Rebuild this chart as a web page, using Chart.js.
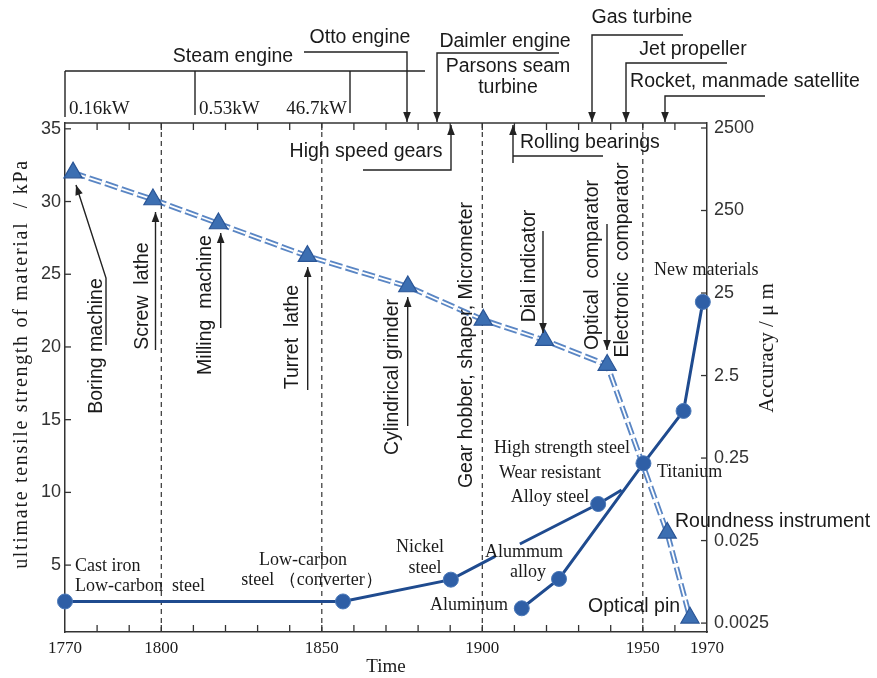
<!DOCTYPE html>
<html>
<head>
<meta charset="utf-8">
<script src="https://cdn.jsdelivr.net/npm/chart.js@4.4.1/dist/chart.umd.min.js"></script>
<style>
html,body{margin:0;padding:0;background:#fff;}
#wrap{width:877px;height:678px;position:relative;}
</style>
</head>
<body>
<div id="wrap"><canvas id="c" width="877" height="678"></canvas></div>
<script>
// ---------------- data ----------------
const xLabelYears = [1770, 1800, 1850, 1900, 1950, 1970];
const dashedYears = [1800, 1850, 1900, 1950];
const leftTicks = [5, 10, 15, 20, 25, 30, 35];
const rightTicks = [0.0025, 0.025, 0.25, 2.5, 25, 250, 2500];
const rightTickLabels = ['0.0025', '0.025', '0.25', '2.5', '25', '250', '2500'];

// machine tools / measuring instruments: accuracy (μm, right log axis)
const toolNames = ['Boring machine', 'Screw lathe', 'Milling machine', 'Turret lathe', 'Cylindrical grinder',
  'Gear hobber, shaper, Micrometer', 'Dial indicator', 'Optical comparator', 'Roundness instrument', 'Optical pin'];
const toolYears = [1772.5, 1797.4, 1817.8, 1845.5, 1876.8, 1900.3, 1919.4, 1938.9, 1957.6, 1964.7];
const toolAccuracy = [720, 340, 174, 70, 30, 11.8, 6.7, 3.35, 0.031, 0.0029];

// steels: tensile strength (left axis); null = break in the line
const steelYears = [1770, 1856.6, 1890.2, 1904.0, 1908, 1911.7, 1936.1, 1943.4];
const steelStrength = [2.5, 2.5, 4.0, 5.6, null, 6.45, 9.2, 10.17];
const steelMeasured = [true, true, true, false, false, false, true, false];

// light alloys / new materials: tensile strength (left axis)
const alloyYears = [1912.3, 1923.9, 1950.2, 1962.7, 1968.7];
const alloyStrength = [2.03, 4.05, 12.0, 15.6, 23.1];

// ---------------- style ----------------
const SANS = '"Liberation Sans", Arial, sans-serif';
const SERIF = '"Liberation Serif", "Times New Roman", serif';
const INK = '#1a1a1a';
const NAVY = '#1f4b8f';
const TRI_FILL = '#3c6fb2';
const DASH_BLUE = '#5a86c4';

function seg(ctx, pts) {
  ctx.beginPath();
  ctx.moveTo(pts[0][0], pts[0][1]);
  for (let i = 1; i < pts.length; i++) ctx.lineTo(pts[i][0], pts[i][1]);
  ctx.stroke();
}
function arrow(ctx, pts) {
  seg(ctx, pts);
  const [x1, y1] = pts[pts.length - 2], [x2, y2] = pts[pts.length - 1];
  const a = Math.atan2(y2 - y1, x2 - x1), L = 10, W = 3.8;
  ctx.beginPath();
  ctx.moveTo(x2, y2);
  ctx.lineTo(x2 - L * Math.cos(a) + W * Math.sin(a), y2 - L * Math.sin(a) - W * Math.cos(a));
  ctx.lineTo(x2 - L * Math.cos(a) - W * Math.sin(a), y2 - L * Math.sin(a) + W * Math.cos(a));
  ctx.closePath();
  ctx.fill();
}
function txt(ctx, s, x, y, font, align, color) {
  ctx.font = font;
  ctx.fillStyle = color || INK;
  ctx.textAlign = align || 'left';
  ctx.textBaseline = 'middle';
  ctx.fillText(s, x, y);
}
function vtxt(ctx, s, cx, cy, font, color) {
  ctx.save();
  ctx.translate(cx, cy);
  ctx.rotate(-Math.PI / 2);
  txt(ctx, s, 0, 0, font, 'center', color);
  ctx.restore();
}

const F_SANS = '19.5px ' + SANS;
const F_SERIF = '18px ' + SERIF;

const deco = {
  id: 'deco',
  beforeDatasetsDraw(chart) {
    const {ctx, chartArea: a, scales: {x, y, y2}} = chart;
    ctx.save();
    ctx.strokeStyle = '#333';
    ctx.lineWidth = 1.5;
    seg(ctx, [[a.left, a.top], [a.right, a.top]]);
    // dashed verticals
    ctx.lineWidth = 1.2;
    ctx.setLineDash([5, 4]);
    dashedYears.forEach(v => { const p = x.getPixelForValue(v); seg(ctx, [[p, a.top], [p, a.bottom]]); });
    ctx.setLineDash([]);
    // inward tick marks
    ctx.lineWidth = 1.3;
    x.ticks.forEach(t => {
      const p = x.getPixelForValue(t.value);
      if (p <= a.left + 1 || p >= a.right - 1) return;
      seg(ctx, [[p, a.bottom], [p, a.bottom - 7]]);
      seg(ctx, [[p, a.top], [p, a.top + 7]]);
    });
    y.ticks.forEach(t => { const p = y.getPixelForValue(t.value); seg(ctx, [[a.left, p], [a.left + 6, p]]); });
    y2.ticks.forEach(t => { const p = y2.getPixelForValue(t.value); seg(ctx, [[a.right, p], [a.right - 6, p]]); });
    ctx.restore();
  },
  afterDraw(chart) {
    const {ctx} = chart;
    ctx.save();
    ctx.strokeStyle = '#222';
    ctx.fillStyle = '#222';
    ctx.lineWidth = 1.4;

    // ---- axis titles ----
    ctx.save();
    ctx.letterSpacing = '1.7px';
    vtxt(ctx, 'ultimate tensile strength of material  / kPa', 22, 364, '20px ' + SERIF);
    ctx.restore();
    vtxt(ctx, 'Accuracy / \u03bc m', 767, 348, '21px ' + SERIF);

    // ---- top: power machinery ----
    seg(ctx, [[65, 71], [425, 71]]);
    seg(ctx, [[65, 71], [65, 117]]);
    seg(ctx, [[195, 71], [195, 115]]);
    seg(ctx, [[350, 71], [350, 113]]);
    txt(ctx, 'Steam engine', 233, 57, F_SANS, 'center');
    txt(ctx, '0.16kW', 69, 109, '19px ' + SERIF, 'left');
    txt(ctx, '0.53kW', 199, 109, '19px ' + SERIF, 'left');
    txt(ctx, '46.7kW', 347, 109, '19px ' + SERIF, 'right');

    ctx.fillStyle = '#222';
    arrow(ctx, [[304, 52], [407, 52], [407, 122]]);
    txt(ctx, 'Otto engine', 360, 38, F_SANS, 'center');
    ctx.fillStyle = '#222';
    arrow(ctx, [[559, 53], [437, 53], [437, 122]]);
    txt(ctx, 'Daimler engine', 505, 42, F_SANS, 'center');
    txt(ctx, 'Parsons seam', 508, 67, F_SANS, 'center');
    txt(ctx, 'turbine', 508, 88, F_SANS, 'center');
    ctx.fillStyle = '#222';
    arrow(ctx, [[683, 35], [592, 35], [592, 122]]);
    txt(ctx, 'Gas turbine', 642, 18, F_SANS, 'center');
    ctx.fillStyle = '#222';
    arrow(ctx, [[727, 63], [626, 63], [626, 122]]);
    txt(ctx, 'Jet propeller', 693, 50, F_SANS, 'center');
    ctx.fillStyle = '#222';
    arrow(ctx, [[765, 96], [665, 96], [665, 122]]);
    txt(ctx, 'Rocket, manmade satellite', 745, 82, F_SANS, 'center');

    // ---- gears / bearings ----
    ctx.fillStyle = '#222';
    arrow(ctx, [[363, 170], [451, 170], [451, 125]]);
    txt(ctx, 'High speed gears', 366, 152, F_SANS, 'center');
    ctx.fillStyle = '#222';
    arrow(ctx, [[513, 163], [513, 125]]);
    seg(ctx, [[513, 156], [603, 156]]);
    txt(ctx, 'Rolling bearings', 520, 143, F_SANS, 'left');

    // ---- machine tools / instruments ----
    ctx.fillStyle = '#222';
    arrow(ctx, [[106, 345], [106, 278], [76, 185]]);
    arrow(ctx, [[155.5, 350], [155.5, 212]]);
    arrow(ctx, [[220.7, 328], [220.7, 233]]);
    arrow(ctx, [[307.7, 390], [307.7, 267]]);
    arrow(ctx, [[407.7, 426], [407.7, 297]]);
    arrow(ctx, [[543, 231], [543, 333]]);
    arrow(ctx, [[607, 224], [607, 350]]);
    vtxt(ctx, toolNames[0], 97, 346, F_SANS);
    vtxt(ctx, 'Screw  lathe', 143, 296, F_SANS);
    vtxt(ctx, 'Milling  machine', 206, 305, F_SANS);
    vtxt(ctx, 'Turret  lathe', 293, 337, F_SANS);
    vtxt(ctx, toolNames[4], 393, 377, F_SANS);
    vtxt(ctx, toolNames[5], 467, 345, F_SANS);
    vtxt(ctx, toolNames[6], 530, 266, F_SANS);
    vtxt(ctx, 'Optical  comparator', 593, 265, F_SANS);
    vtxt(ctx, 'Electronic  comparator', 623, 260, F_SANS);
    txt(ctx, toolNames[8], 675, 522, F_SANS, 'left');
    txt(ctx, toolNames[9], 588, 607, F_SANS, 'left');

    // ---- materials ----
    txt(ctx, 'Cast iron', 75, 566, F_SERIF, 'left');
    txt(ctx, 'Low-carbon  steel', 75, 586, F_SERIF, 'left');
    txt(ctx, 'Low-carbon', 303, 560, F_SERIF, 'center');
    txt(ctx, 'steel \uff08converter\uff09', 312, 580, F_SERIF, 'center');
    txt(ctx, 'Nickel', 420, 547, F_SERIF, 'center');
    txt(ctx, 'steel', 425, 568, F_SERIF, 'center');
    txt(ctx, 'Alummum', 524, 552, F_SERIF, 'center');
    txt(ctx, 'alloy', 528, 572, F_SERIF, 'center');
    txt(ctx, 'Aluminum', 469, 605, F_SERIF, 'center');
    txt(ctx, 'High strength steel', 562, 448, F_SERIF, 'center');
    txt(ctx, 'Wear resistant', 550, 473, F_SERIF, 'center');
    txt(ctx, 'Alloy steel', 550, 497, F_SERIF, 'center');
    txt(ctx, 'Titanium', 657, 472, F_SERIF, 'left');
    txt(ctx, 'New materials', 654, 270, F_SERIF, 'left');
    ctx.restore();
  }
};

const toolData = toolYears.map((v, i) => ({x: v, y: toolAccuracy[i]}));
const steelData = steelYears.map((v, i) => ({x: v, y: steelStrength[i]}));
const alloyData = alloyYears.map((v, i) => ({x: v, y: alloyStrength[i]}));

new Chart(document.getElementById('c'), {
  type: 'line',
  data: {
    datasets: [
      { // outer double-line
        data: toolData, yAxisID: 'y2', borderColor: DASH_BLUE, borderWidth: 5.5,
        borderDash: [13, 4], pointRadius: 0, tension: 0, clip: false, order: 5, fill: false
      },
      { // inner white gap + triangle markers
        data: toolData, yAxisID: 'y2', borderColor: '#ffffff', borderWidth: 1.8,
        borderDash: [13, 4], pointStyle: 'triangle', pointRadius: 10.5,
        pointBackgroundColor: TRI_FILL, pointBorderColor: '#2a5596', pointBorderWidth: 1.2,
        tension: 0, clip: false, order: 4, fill: false
      },
      {
        data: steelData, yAxisID: 'y', borderColor: NAVY, borderWidth: 3, spanGaps: false,
        pointRadius: c => steelMeasured[c.dataIndex] ? 7.5 : 0,
        pointBackgroundColor: '#2f5fa6', pointBorderColor: '#4a78b8', pointBorderWidth: 1,
        tension: 0, clip: false, order: 2, fill: false
      },
      {
        data: alloyData, yAxisID: 'y', borderColor: NAVY, borderWidth: 3,
        pointRadius: 7.5, pointBackgroundColor: '#2f5fa6', pointBorderColor: '#4a78b8', pointBorderWidth: 1,
        tension: 0, clip: false, order: 1, fill: false
      }
    ]
  },
  options: {
    responsive: false,
    devicePixelRatio: 1,
    animation: false,
    layout: {padding: {top: 123, left: 0, right: 0, bottom: 0}},
    plugins: {legend: {display: false}, tooltip: {enabled: false}},
    scales: {
      x: {
        type: 'linear', position: 'bottom', min: 1770, max: 1970,
        afterBuildTicks: s => {
          const t = [];
          for (let v = 1770; v <= 1970; v += 10) t.push({value: v});
          s.ticks = t;
        },
        afterFit: s => { s.height = 46; },
        grid: {display: false, drawTicks: false},
        border: {display: true, color: '#333', width: 1.5},
        ticks: {
          autoSkip: false, maxRotation: 0, padding: 6, color: INK,
          font: {family: SERIF, size: 17},
          callback: v => xLabelYears.includes(v) ? String(v) : ''
        },
        title: {display: true, text: 'Time', color: INK, font: {family: SERIF, size: 19}, padding: {top: 0, bottom: 0}}
      },
      y: {
        type: 'linear', position: 'left', min: 0.4, max: 35.4,
        afterBuildTicks: s => { s.ticks = leftTicks.map(v => ({value: v})); },
        afterFit: s => { s.width = 65; },
        grid: {display: false, drawTicks: false},
        border: {display: true, color: '#333', width: 1.5},
        ticks: {padding: 4, color: '#333', font: {family: SANS, size: 18}},
        title: {display: false}
      },
      y2: {
        type: 'logarithmic', position: 'right', min: 0.00195, max: 2874,
        afterBuildTicks: s => { s.ticks = rightTicks.map(v => ({value: v})); },
        afterFit: s => { s.width = 170; },
        grid: {display: false, drawTicks: false},
        border: {display: true, color: '#333', width: 1.5},
        ticks: {padding: 7, color: '#333', font: {family: SANS, size: 18},
          callback: (v, i) => rightTickLabels[i]},
        title: {display: false}
      }
    }
  },
  plugins: [deco]
});
</script>
</body>
</html>
